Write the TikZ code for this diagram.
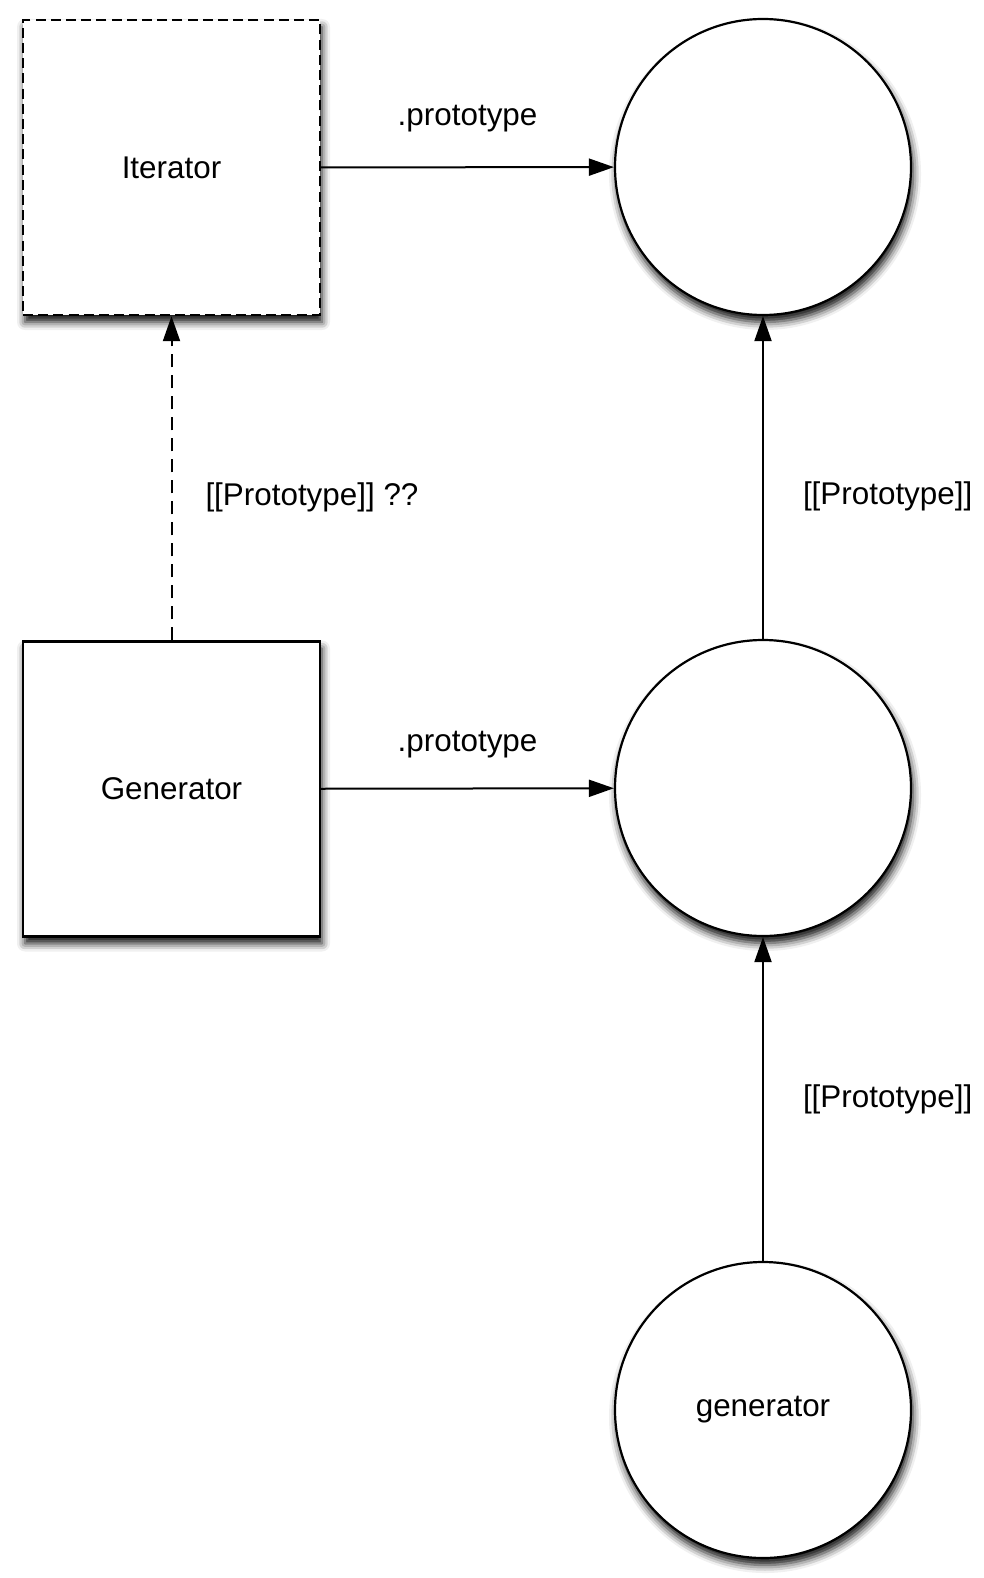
\documentclass[tikz,border=0pt]{standalone}
\usepackage{fontspec}
\setmainfont{Liberation Sans}
\usetikzlibrary{arrows.meta}
\usetikzlibrary{shadows.blur}

\tikzset{
  objbox/.style={draw, line width=1.2pt, fill=white, minimum width=148.5pt, minimum height=147.5pt,
    blur shadow={shadow xshift=1pt, shadow yshift=-3.5pt, shadow blur radius=4pt, shadow opacity=95}},
  objcirc/.style={draw, circle, line width=1.1pt, fill=white, minimum size=148pt, inner sep=0pt,
    blur shadow={shadow xshift=1pt, shadow yshift=-3.5pt, shadow blur radius=4pt, shadow opacity=95}},
  link/.style={line width=1pt, -{Triangle[length=12.5pt,width=8.5pt]}},
  lbl/.style={inner sep=0pt}
}

\begin{document}
\begin{tikzpicture}[x=0.5pt,y=-0.5pt,font=\fontsize{15.7}{19}\selectfont]
                \useasboundingbox (0,0) rectangle (984,1578);
                \node[objbox, dash pattern=on 5pt off 2.6pt] (Iter) at (171.5,167.5) {Iterator};
                \node[objbox] (Gen) at (171.5,789) {Generator};
                \node[objcirc] (IterProto) at (763,167) {};
                \node[objcirc] (GenProto) at (763,788) {};
                \node[objcirc] (gen) at (763,1410) {generator};
                \draw[link] (Iter) -- node[lbl, yshift=24.5pt] {.prototype} (IterProto);
                \draw[link] (Gen) -- node[lbl, yshift=22pt] {.prototype} (GenProto);
                \draw[link, dash pattern=on 6.5pt off 4pt] (Gen) -- node[lbl, pos=0.44, right=16.5pt] {[[Prototype]] ??} (Iter);
                \draw[link] (GenProto) -- node[lbl, pos=0.44, right=19.5pt] {[[Prototype]]} (IterProto);
                \draw[link] (gen) -- node[lbl, right=19.5pt] {[[Prototype]]} (GenProto);
            \end{tikzpicture}
\end{document}
